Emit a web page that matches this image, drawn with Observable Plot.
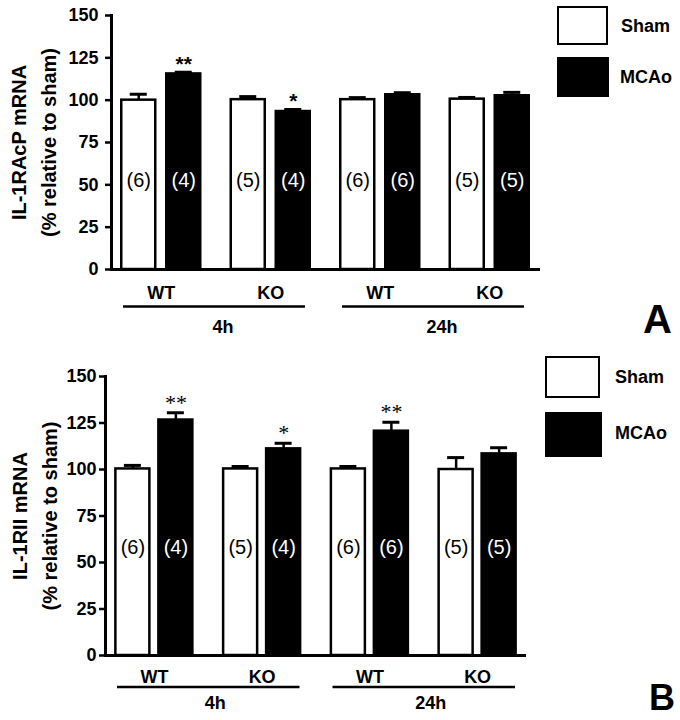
<!DOCTYPE html>
<html><head><meta charset="utf-8">
<script src="https://cdn.jsdelivr.net/npm/d3@7"></script>
<script src="https://cdn.jsdelivr.net/npm/@observablehq/plot@0.6"></script>
<style>
body{margin:0;background:#fff;}
#wrap{position:relative;width:680px;height:720px;font-family:"Liberation Sans",Arial,sans-serif;overflow:hidden;}
#wrap svg{display:block;}
.lg{position:absolute;box-sizing:border-box;border:2.5px solid #000;}
.lt{position:absolute;font-weight:bold;font-size:18px;line-height:1;white-space:nowrap;}
.letter{position:absolute;font-weight:bold;line-height:30px;}
</style></head><body><div id="wrap"></div>
<script>
// ---- data ----
const groups = ["WT 4h", "KO 4h", "WT 24h", "KO 24h"];
const genotypes = ["WT", "KO", "WT", "KO"];
const timeLabels = ["4h", "24h"];
const timeFirst = ["WT 4h", "WT 24h"];
const timeLast = ["KO 4h", "KO 24h"];
const seriesNames = ["Sham", "MCAo"];
const yTicks = [0, 25, 50, 75, 100, 125, 150];

// Panel A: IL-1RAcP
const yLabelA = "IL-1RAcP mRNA\n(% relative to sham)";
const shamA = [100, 100.3, 100.3, 100.6];
const shamErrA = [3.5, 1.8, 1.2, 1.0];
const mcaoA = [115.5, 93.3, 103.2, 102.6];
const mcaoErrA = [1.0, 1.2, 1.2, 2.0];
const shamNA = [6, 5, 6, 5];
const mcaoNA = [4, 4, 6, 5];
const starsA = ["**", "*", "", ""];

// Panel B: IL-1RII
const yLabelB = "IL-1RII mRNA\n(% relative to sham)";
const shamB = [100.3, 100.3, 100.3, 100];
const shamErrB = [1.9, 1.3, 1.3, 6.4];
const mcaoB = [126.6, 111.1, 120.6, 108.4];
const mcaoErrB = [3.9, 3.0, 4.8, 3.3];
const shamNB = [6, 5, 6, 5];
const mcaoNB = [4, 4, 6, 5];
const starsB = ["**", "*", "**", ""];

const FONT = "Liberation Sans, Arial, sans-serif";

function panel(cfg) {
  const bw = (cfg.range[1] - cfg.range[0]) / groups.length;
  const inset = (bw - cfg.barW) / 2;
  const capInset = (bw - cfg.capW) / 2;
  const rows = [];
  groups.forEach((g, i) => {
    rows.push({group: g, series: seriesNames[0], mean: cfg.sham[i], err: cfg.shamErr[i], n: cfg.shamN[i], star: ""});
    rows.push({group: g, series: seriesNames[1], mean: cfg.mcao[i], err: cfg.mcaoErr[i], n: cfg.mcaoN[i], star: cfg.stars[i]});
  });
  const geno = groups.map((g, i) => ({group: g, genotype: genotypes[i]}));
  const times = timeLabels.map((t, i) => ({label: t, first: timeFirst[i], last: timeLast[i]}));
  const marks = [];
  const specs = [
    [rows.filter(d => d.series === "Sham"), -cfg.half, "white", "black"],
    [rows.filter(d => d.series === "MCAo"), cfg.half, "black", "white"]
  ];
  for (const [data, dx, fill, txt] of specs) {
    marks.push(Plot.ruleX(data, {x: "group", y1: "mean", y2: d => d.mean + d.err, dx, stroke: "black", strokeWidth: 2.5}));
    marks.push(Plot.tickY(data, {x: "group", y: d => d.mean + d.err, dx, insetLeft: capInset, insetRight: capInset, stroke: "black", strokeWidth: 3}));
    marks.push(Plot.barY(data, {x: "group", y: "mean", dx, insetLeft: inset, insetRight: inset, fill, stroke: "black", strokeWidth: 2.5}));
    marks.push(Plot.text(data, {x: "group", text: d => `(${d.n})`, frameAnchor: "bottom", dy: cfg.nDy, dx, fill: txt, fontSize: 20, fontFamily: FONT}));
  }
  marks.push(Plot.text(specs[1][0].filter(d => d.star), {
    x: "group", y: d => d.mean + d.err, text: "star", dx: cfg.half, dy: cfg.starDy,
    lineAnchor: "bottom", fontSize: cfg.starSize, fontWeight: cfg.starWeight, fontFamily: cfg.starFont
  }));
  marks.push(Plot.ruleY([0], {stroke: "black", strokeWidth: 3}));
  marks.push(Plot.frame({anchor: "left", stroke: "black", strokeWidth: 3}));
  marks.push(Plot.axisY({ticks: yTicks, tickSize: 6, tickPadding: cfg.tickPadding, strokeWidth: 2.5, fontSize: 18, fontWeight: "bold", label: null, fontFamily: FONT}));
  marks.push(Plot.text(geno, {x: "group", text: "genotype", frameAnchor: "bottom", lineAnchor: "bottom", dy: cfg.genoDy, fontSize: 18, fontWeight: "bold", fontFamily: FONT}));
  marks.push(Plot.ruleY(times, {x1: "first", x2: "last", y: () => 0, dy: cfg.lineDy, insetLeft: cfg.lineInset[0], insetRight: cfg.lineInset[1], stroke: "black", strokeWidth: 2.5}));
  marks.push(Plot.text(times, {x: "last", text: "label", frameAnchor: "bottom", lineAnchor: "bottom", dy: cfg.timeDy, dx: -bw / 2 + 7, fontSize: 18, fontWeight: "bold", fontFamily: FONT}));
  marks.push(Plot.text([cfg.ylabel], {frameAnchor: "left", textAnchor: "middle", lineAnchor: "middle", rotate: -90, dx: cfg.ylabelDx, lineHeight: 1.5, fontSize: 20, fontWeight: "bold", fontFamily: FONT}));
  return Plot.plot({
    width: 680,
    height: cfg.height,
    marginTop: cfg.marginTop,
    marginBottom: cfg.marginBottom,
    marginLeft: cfg.marginLeft,
    marginRight: cfg.marginRight,
    style: {fontFamily: FONT, background: "white", color: "black", overflow: "visible"},
    x: {type: "band", domain: groups, range: cfg.range, padding: 0, round: false, axis: null},
    y: {domain: [0, 150], axis: null},
    marks
  });
}

const wrap = document.getElementById("wrap");
wrap.appendChild(panel({
  height: 355, marginTop: 15, marginBottom: 86, marginLeft: 111, marginRight: 140,
  range: [106, 544], half: 22.5, barW: 34, capW: 17,
  sham: shamA, shamErr: shamErrA, mcao: mcaoA, mcaoErr: mcaoErrA, shamN: shamNA, mcaoN: mcaoNA, stars: starsA,
  nDy: -83, starDy: -1, starSize: 21, starWeight: "bold", starFont: FONT, tickPadding: 7,
  genoDy: 29, lineDy: 37, lineInset: [17, 20], timeDy: 63, ylabel: yLabelA, ylabelDx: -80
}));
wrap.appendChild(panel({
  height: 365, marginTop: 21, marginBottom: 65, marginLeft: 105, marginRight: 154,
  range: [100, 531], half: 21.5, barW: 34, capW: 17,
  sham: shamB, shamErr: shamErrB, mcao: mcaoB, mcaoErr: mcaoErrB, shamN: shamNB, mcaoN: mcaoNB, stars: starsB,
  nDy: -102, starDy: -3, starSize: 22, starWeight: "normal", starFont: "Liberation Serif, Times New Roman, serif", tickPadding: 3,
  genoDy: 27, lineDy: 31.5, lineInset: [17, 16], timeDy: 53, ylabel: yLabelB, ylabelDx: -73.5
}));

// legends and panel letters (HTML overlay)
const legends = [
  {boxes: [[557, 6, 51, 39], [557, 57, 52, 40]], texts: [[621, 17], [620, 68]], letter: ["A", 643, 304, 40]},
  {boxes: [[545, 356, 55, 42], [545, 412, 57, 45]], texts: [[615, 368], [615, 424]], letter: ["B", 649, 683, 36]}
];
legends.forEach(L => {
  seriesNames.forEach((s, i) => {
    const [x, y, w, h] = L.boxes[i];
    const b = document.createElement("div");
    b.className = "lg";
    Object.assign(b.style, {left: x + "px", top: y + "px", width: w + "px", height: h + "px", background: i === 0 ? "#fff" : "#000"});
    wrap.appendChild(b);
    const t = document.createElement("div");
    t.className = "lt";
    t.textContent = s;
    Object.assign(t.style, {left: L.texts[i][0] + "px", top: L.texts[i][1] + "px"});
    wrap.appendChild(t);
  });
  const l = document.createElement("div");
  l.className = "letter";
  l.textContent = L.letter[0];
  Object.assign(l.style, {left: L.letter[1] + "px", top: L.letter[2] + "px", fontSize: L.letter[3] + "px"});
  wrap.appendChild(l);
});
</script></body></html>
